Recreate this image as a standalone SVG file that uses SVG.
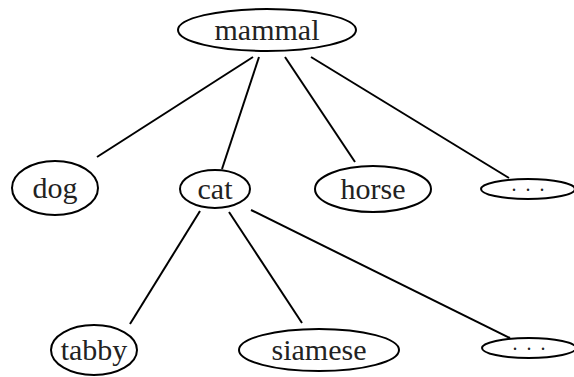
<svg xmlns="http://www.w3.org/2000/svg" width="574" height="377" viewBox="0 0 574 377">
<style>
.n ellipse{fill:none;stroke:#000;stroke-width:2}
text{font-family:'Liberation Serif','DejaVu Serif',serif;font-size:30px;fill:#222;text-anchor:middle}
text.d{font-size:20px;letter-spacing:2px}
#edges line{stroke:#000;stroke-width:2}
</style>
<rect width="574" height="377" fill="#fff"/>
<g id="edges">
<line x1="253" y1="57" x2="97" y2="157"/>
<line x1="259" y1="57" x2="222" y2="169"/>
<line x1="285" y1="57" x2="355" y2="162"/>
<line x1="311" y1="57" x2="509" y2="178"/>
<line x1="200" y1="211" x2="130" y2="324"/>
<line x1="229" y1="212" x2="302" y2="323"/>
<line x1="251" y1="210" x2="510" y2="338"/>
</g>
<g id="mammal" class="n"><ellipse cx="267" cy="30" rx="89" ry="21"/><text x="267" y="40" font-family="Liberation Serif, serif">mammal</text></g>
<g id="dog" class="n"><ellipse cx="55" cy="188" rx="43" ry="27"/><text x="55" y="198">dog</text></g>
<g id="cat" class="n"><ellipse cx="215" cy="189" rx="35" ry="19"/><text x="215" y="199">cat</text></g>
<g id="horse" class="n"><ellipse cx="373" cy="189" rx="58" ry="23"/><text x="373" y="199">horse</text></g>
<g id="etc1" class="n"><ellipse cx="528" cy="189" rx="47" ry="10"/><text class="d" x="529" y="191">. . .</text></g>
<g id="tabby" class="n"><ellipse cx="94" cy="350" rx="43" ry="25"/><text x="94" y="360">tabby</text></g>
<g id="siamese" class="n"><ellipse cx="319" cy="350" rx="80" ry="21"/><text x="319" y="360">siamese</text></g>
<g id="etc2" class="n"><ellipse cx="529" cy="348" rx="47" ry="10"/><text class="d" x="530" y="350">. . .</text></g>
</svg>
